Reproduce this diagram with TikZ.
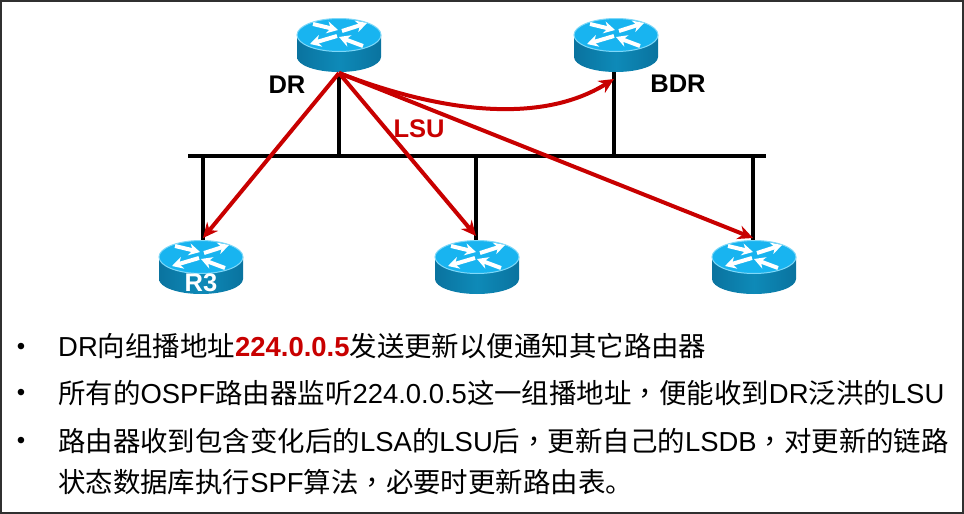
\documentclass[tikz,border=0pt]{standalone}
\usepackage{fontspec}
\setmainfont{Liberation Sans}
\newfontfamily\cjk{Noto Sans CJK SC}
\newfontfamily\cjkp{Noto Sans CJK TC}
\usetikzlibrary{arrows.meta}
\definecolor{rtop}{HTML}{18B4F0}
\definecolor{rrim}{HTML}{7FD8F8}
\definecolor{rbodyl}{HTML}{0A739F}
\definecolor{rbodym}{HTML}{0E8AB8}
\definecolor{lsured}{HTML}{C80000}
\definecolor{frameC}{HTML}{303030}
\tikzset{
  busline/.style={line width=3.4pt,black},
  floodline/.style={line width=4pt,lsured,-{Stealth[length=15pt,width=14pt]}},
  flip/.style={white,line width=4pt,-{Stealth[length=11pt,width=12pt]}},
  lab/.style={font=\fontsize{25.5}{26}\selectfont\bfseries,inner sep=0pt},
  bodytext/.style={font=\fontsize{27.45}{28}\selectfont,anchor=base west,inner sep=0pt},
  dotnode/.style={font=\fontsize{24}{24}\selectfont,inner sep=0pt},
  rbox/.style={minimum width=84pt,minimum height=54pt,inner sep=0pt},
}
\newcommand{\rtr}[3]{% name, x, y (centre of top ellipse)
  \begin{scope}[shift={(#2,#3)}]
    \path[left color=rbodyl,right color=rbodyl,middle color=rbodym]
      (-42,0) -- (-42,22) arc[start angle=180,end angle=360,x radius=42pt,y radius=15pt] -- (42,0) -- cycle;
    \path[fill=rtop,draw=rrim,line width=1pt] (0,0) ellipse[x radius=42pt,y radius=16.5pt];
    \draw[flip] (-26,-11) -- (-1,-5);
    \draw[flip] (3,-4) -- (28,-12);
    \draw[flip] (-2,1) -- (-29,9);
    \draw[flip] (24,11) -- (0,2);
  \end{scope}
  \node[rbox] (#1) at (#2,#3+10) {};
}
\begin{document}
\begin{tikzpicture}[x=1pt,y=-1pt]
\useasboundingbox (0,0) rectangle (964,514);
\draw[frameC,line width=2pt] (1,1) rectangle (963,513);

\coordinate (busL) at (188,156);
\coordinate (busR) at (766,156);
\coordinate (tapDR) at (339,156);
\coordinate (tapBDR) at (614,156);
\coordinate (tapA) at (203,156);
\coordinate (tapB) at (476,156);
\coordinate (tapC) at (753,156);
\coordinate (drTail) at (339,73);
\coordinate (bdrTip) at (614,79);
\coordinate (aTip) at (203,238);
\coordinate (bTip) at (476,236);
\coordinate (cTip) at (753,238);

\draw[busline] (busL) -- (busR);
\draw[busline] (tapDR) -- (drTail);
\draw[busline] (tapBDR) -- (614,70);
\draw[busline] (tapA) -- (203,242);
\draw[busline] (tapB) -- (476,242);
\draw[busline] (tapC) -- (753,242);

\rtr{dr}{339}{35}
\rtr{bdr}{616}{35}
\rtr{ra}{201}{257}
\rtr{rb}{477}{257}
\rtr{rc}{754}{257}

\draw[floodline] (drTail) -- (aTip);
\draw[floodline] (drTail) -- (bTip);
\draw[floodline] (drTail) -- (cTip);
\draw[floodline] (drTail) .. controls (440,112) and (540,125) .. (bdrTip);

\node[lab] (ldr) at (287,85) {DR};
\node[lab] (lbdr) at (678,84) {BDR};
\node[lab,text=lsured] (llsu) at (419,129) {LSU};
\node[lab,text=white] (lr3) at (201,283) {R3};

\node[dotnode] (b1) at (21,349) {•};
\node[dotnode] (b2) at (21,395) {•};
\node[dotnode] (b3) at (21,443) {•};

\node[bodytext] (t1) at (58,356) {DR{\cjk 向组播地址}\textcolor{lsured}{\bfseries 224.0.0.5}{\cjk 发送更新以便通知其它路由器}};
\node[bodytext] (t2) at (58,403) {{\cjk 所有的}OSPF{\cjk 路由器监听}224.0.0.5{\cjk 这一组播地址}{\cjkp ，}{\cjk 便能收到}DR{\cjk 泛洪的}LSU};
\node[bodytext] (t3) at (58,451) {{\cjk 路由器收到包含变化后的}LSA{\cjk 的}LSU{\cjk 后}{\cjkp ，}{\cjk 更新自己的}LSDB{\cjkp ，}{\cjk 对更新的链路}};
\node[bodytext] (t4) at (58,492) {{\cjk 状态数据库执行}SPF{\cjk 算法}{\cjkp ，}{\cjk 必要时更新路由表。}};
\end{tikzpicture}
\end{document}
